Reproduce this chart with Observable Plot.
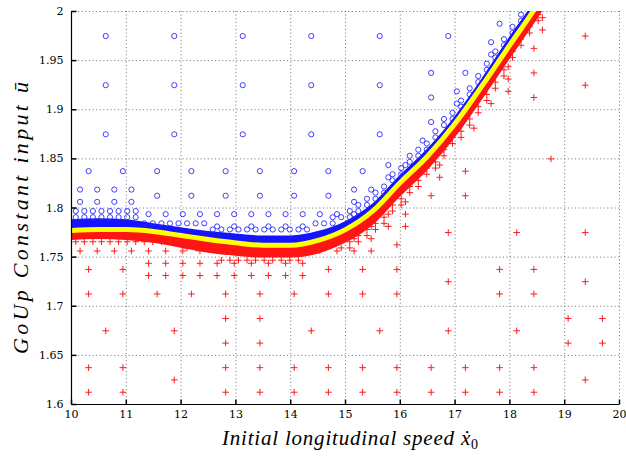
<!DOCTYPE html>
<html><head><meta charset="utf-8">
<script src="https://cdn.jsdelivr.net/npm/d3@7"></script>
<script src="https://cdn.jsdelivr.net/npm/@observablehq/plot@0.6"></script>
<style>body{margin:0;background:#fff;} svg{display:block}</style>
</head><body><div id="chart"></div>
<script>
const xTicks = [10, 11, 12, 13, 14, 15, 16, 17, 18, 19, 20];
const yTicks = [1.6, 1.65, 1.7, 1.75, 1.8, 1.85, 1.9, 1.95, 2];

// boundary curve (yellow) and dense band edges
const curveX    = [10, 10.5, 11, 11.5, 12, 12.5, 13, 13.5, 14, 14.5, 15, 15.5, 16, 16.5, 17, 17.5, 18, 18.42, 18.6];
const curveU    = [1.777, 1.778, 1.778, 1.776, 1.772, 1.768, 1.7645, 1.762, 1.762, 1.767, 1.778, 1.797, 1.826, 1.853, 1.886, 1.925, 1.966, 2.0, 2.016];
const blueTop   = [1.788, 1.789, 1.788, 1.784, 1.780, 1.776, 1.7735, 1.7715, 1.7715, 1.776, 1.786, 1.804, 1.833, 1.860, 1.893, 1.932, 1.974, 2.008, 2.026];
const redBottom = [1.767, 1.768, 1.767, 1.764, 1.759, 1.754, 1.751, 1.749, 1.749, 1.753, 1.764, 1.782, 1.811, 1.838, 1.871, 1.910, 1.951, 1.985, 2.0];

// blue circles: rows [y, xs]
const blueRows = [
  [1.975, [10.625, 11.875, 13.125, 14.375, 15.625, 16.875]],
  [1.925, [10.625, 11.875, 13.125, 14.375, 15.625]],
  [1.875, [10.625, 11.875, 13.125, 14.375, 15.625]],
  [1.9875, [17.8125]],
  [1.9375, [16.5625, 17.1875]],
  [1.9125, [16.5625]],
  [1.8875, [16.5625]],
  [1.8375, [10.3125, 10.9375, 11.5625, 12.1875, 12.8125, 13.4375, 14.0625, 14.6875, 15.3125]],
  [1.8125, [11.5625, 12.1875, 12.8125, 13.4375, 14.0625, 14.6875]],
  [1.96875, [17.65625]],
  [1.95625, [17.65625]],
  [1.91875, [17.03125]],
  [1.90625, [17.03125]],
  [1.86875, [16.40625]],
  [1.84375, [15.78125, 16.09375]],
  [1.83125, [15.78125]],
  [1.81875, [10.15625, 10.46875, 10.78125, 11.09375, 15.15625, 15.46875]],
  [1.80625, [10.15625, 10.46875, 10.78125, 11.09375, 15.15625]],
  [1.79375, [11.40625, 11.71875, 12.03125, 12.34375, 12.65625, 12.96875, 13.28125, 13.59375, 13.90625, 14.21875, 14.53125, 14.84375, 15.15625]],
  [1.78125, [12.65625, 12.96875, 13.28125, 13.59375, 13.90625, 14.21875]],
  [1.796875, [10.078, 10.234, 10.391, 10.547, 10.703, 10.859, 11.016, 11.172]],
  [1.790625, [10.078, 10.234, 10.391, 10.547, 10.703, 10.859, 11.016, 11.172]],
  [1.784375, [11.328, 11.484, 11.641, 11.797, 11.953, 12.109, 12.266, 12.422]],
  [1.778125, [12.578, 12.734, 12.891, 13.047, 13.203, 13.359, 13.516, 13.672, 13.828, 13.984, 14.141, 14.297]]
];
// blue circles next to the rising boundary: columns [x, ys]
const blueCols = [
  [14.453, [1.784375]], [14.609, [1.784375]], [14.766, [1.784375, 1.790625]], [14.922, [1.790625]],
  [15.078, [1.790625, 1.796875]], [15.234, [1.796875, 1.803125]], [15.391, [1.803125, 1.809375]],
  [15.547, [1.809375, 1.815625]], [15.703, [1.815625, 1.821875]], [15.859, [1.828125, 1.834375]],
  [16.016, [1.834375, 1.840625]], [16.172, [1.846875, 1.853125]], [16.328, [1.853125, 1.859375]],
  [16.484, [1.859375, 1.865625]], [16.641, [1.871875, 1.878125]], [16.797, [1.884375, 1.890625]],
  [16.953, [1.890625, 1.896875]], [17.109, [1.903125, 1.909375]], [17.266, [1.915625, 1.921875]],
  [17.422, [1.928125, 1.934375]], [17.578, [1.940625, 1.946875]], [17.734, [1.953125, 1.959375]],
  [17.891, [1.965625, 1.971875]], [18.047, [1.978125, 1.984375]], [18.203, [1.990625, 1.996875]]
];

// red plus markers: rows [y, xs]
const redRows = [
  [1.975, [19.375]], [1.925, [19.375]], [1.85, [18.75]],
  [1.775, [16.875, 18.125, 19.375]], [1.725, [16.875, 19.375]],
  [1.675, [10.625, 11.875, 14.375, 15.625, 16.875, 18.125]],
  [1.625, [11.875, 19.375]],
  [1.9625, [18.4375]], [1.9375, [18.4375]], [1.9125, [18.4375]],
  [1.8375, [17.1875]], [1.8125, [16.5625, 17.1875]], [1.7625, [15.9375]],
  [1.7375, [10.3125, 10.9375, 14.6875, 15.3125, 15.9375, 17.8125, 18.4375]],
  [1.7125, [10.3125, 10.9375, 11.5625, 12.1875, 12.8125, 13.4375, 14.0625, 14.6875, 15.3125, 15.9375, 17.8125, 18.4375]],
  [1.6875, [12.8125, 13.4375, 19.0625, 19.6875]],
  [1.6625, [12.8125, 13.4375, 19.0625, 19.6875]],
  [1.6375, [10.3125, 10.9375, 12.8125, 13.4375, 14.0625, 14.6875, 15.3125, 15.9375, 16.5625, 17.1875, 17.8125, 18.4375]],
  [1.6125, [10.3125, 10.9375, 12.8125, 13.4375, 14.0625, 14.6875, 15.3125, 15.9375, 16.5625, 17.1875, 17.8125, 18.4375]],
  [1.99375, [18.59375]], [1.98125, [18.59375]], [1.94375, [17.96875]], [1.93125, [17.96875]],
  [1.91875, [17.96875]], [1.90625, [17.65625]], [1.88125, [17.34375]],
  [1.84375, [16.71875]], [1.83125, [16.71875]], [1.80625, [16.09375]],
  [1.79375, [15.78125, 16.09375]], [1.78125, [15.46875, 15.78125, 16.09375]],
  [1.76875, [15.15625, 15.46875]],
  [1.75625, [10.15625, 10.46875, 10.78125, 11.09375, 11.40625, 11.71875, 12.03125, 12.34375, 14.53125, 14.84375, 15.15625, 15.46875]],
  [1.74375, [11.40625, 11.71875, 12.03125, 12.34375, 12.65625, 12.96875, 13.28125, 13.59375, 13.90625, 14.21875]],
  [1.73125, [11.40625, 11.71875, 12.03125, 12.34375, 12.65625, 12.96875, 13.28125, 13.59375, 13.90625, 14.21875]],
  [1.765625, [10.078, 10.234, 10.391, 10.547, 10.703, 10.859, 11.016, 11.172, 11.328, 11.484, 11.641, 11.797, 11.953]],
  [1.759375, [12.109, 12.266, 12.422]],
  [1.746875, [12.734, 12.891, 13.047, 13.203, 13.359, 13.516, 13.672, 13.828, 13.984, 14.141]]
];
// red plus markers next to the rising boundary: columns [x, ys]
const redCols = [
  [14.922, [1.759375]], [15.078, [1.765625, 1.759375]], [15.234, [1.771875, 1.765625]],
  [15.391, [1.778125, 1.771875]], [15.547, [1.784375, 1.778125]], [15.703, [1.790625, 1.784375]],
  [15.859, [1.803125, 1.796875]], [16.016, [1.809375, 1.803125]], [16.172, [1.821875, 1.815625]],
  [16.328, [1.828125, 1.821875]], [16.484, [1.834375, 1.840625]], [16.641, [1.846875, 1.840625]],
  [16.797, [1.859375, 1.853125]], [16.953, [1.865625, 1.871875]], [17.109, [1.878125, 1.871875]],
  [17.266, [1.890625, 1.884375]], [17.422, [1.903125, 1.896875]], [17.578, [1.915625, 1.909375]],
  [17.734, [1.928125, 1.921875]], [17.891, [1.940625, 1.934375]], [18.047, [1.953125, 1.959375]],
  [18.203, [1.965625, 1.971875]], [18.359, [1.978125, 1.984375]], [18.516, [1.990625, 1.996875]]
];

const band = curveX.map((x, i) => ({x, u: curveU[i], b: blueTop[i], r: redBottom[i]}));
const fromRows = rows => rows.flatMap(([y, xs]) => xs.map(x => ({x, y})));
const fromCols = cols => cols.flatMap(([x, ys]) => ys.map(y => ({x, y})));
const bluePts = fromRows(blueRows).concat(fromCols(blueCols));
const redPts = fromRows(redRows).concat(fromCols(redCols));

const plus = {draw(ctx, size) { const r = Math.sqrt(size / Math.PI); ctx.moveTo(-r, 0); ctx.lineTo(r, 0); ctx.moveTo(0, -r); ctx.lineTo(0, r); }};
const tickUp = {draw(ctx) { ctx.moveTo(0, 0); ctx.lineTo(0, -5); }};
const tickRight = {draw(ctx) { ctx.moveTo(0, 0); ctx.lineTo(5, 0); }};

const gridStyle = {stroke: "#707070", strokeOpacity: 1, strokeWidth: 1, strokeDasharray: "1,2.6"};

const svg = Plot.plot({
  width: 626, height: 458,
  marginLeft: 71, marginRight: 7, marginTop: 11, marginBottom: 54,
  x: {domain: [10, 20], label: null},
  y: {domain: [1.6, 2], label: null},
  style: {fontFamily: "'DejaVu Serif', serif", fontSize: "11px", color: "#000", background: "#fff"},
  marks: [
    Plot.gridX({ticks: xTicks, ...gridStyle}),
    Plot.gridY({ticks: yTicks, ...gridStyle}),
    Plot.areaY(band, {x: "x", y1: "u", y2: "b", fill: "#1414ff", curve: "monotone-x", clip: true}),
    Plot.areaY(band, {x: "x", y1: "r", y2: "u", fill: "#ff1414", curve: "monotone-x", clip: true}),
    Plot.dot(bluePts, {x: "x", y: "y", r: 2.6, stroke: "#2a2aff", fill: "none", strokeWidth: 0.9}),
    Plot.dot(redPts, {x: "x", y: "y", r: 3.3, symbol: plus, stroke: "#ff1a1a", fill: "none", strokeWidth: 1}),
    Plot.line(band, {x: "x", y: "u", stroke: "#ffff00", strokeWidth: 5, curve: "monotone-x", clip: true}),
    Plot.ruleX([10], {stroke: "#000", strokeWidth: 1.2}),
    Plot.ruleY([1.6], {stroke: "#000", strokeWidth: 1.2}),
    Plot.dot(xTicks, {x: d => d, frameAnchor: "bottom", symbol: tickUp, r: 3, stroke: "#000", fill: "none"}),
    Plot.dot(yTicks, {y: d => d, frameAnchor: "left", symbol: tickRight, r: 3, stroke: "#000", fill: "none"}),
    Plot.axisX({ticks: xTicks, tickSize: 0, tickPadding: 6, tickFormat: d => String(d), label: null}),
    Plot.axisY({ticks: yTicks, tickSize: 0, tickPadding: 8, tickFormat: d => String(d), label: null})
  ]
});
document.getElementById("chart").appendChild(svg);

const s = d3.select(svg);
s.append("text")
  .attr("x", 350).attr("y", 445)
  .attr("text-anchor", "middle")
  .attr("font-family", "'Liberation Serif', serif").attr("font-style", "italic").attr("font-size", 21)
  .attr("textLength", 256).attr("lengthAdjust", "spacing")
  .call(t => { t.append("tspan").text("Initial longitudinal speed ẋ"); t.append("tspan").attr("font-style", "normal").attr("font-size", 14).attr("dy", 4).text("0"); });
s.append("text")
  .attr("transform", "translate(28,218) rotate(-90)")
  .attr("text-anchor", "middle")
  .attr("font-family", "'Liberation Serif', serif").attr("font-style", "italic").attr("font-size", 22)
  .attr("textLength", 272).attr("lengthAdjust", "spacing")
  .text("GoUp Constant input ū");
</script>
</body></html>
